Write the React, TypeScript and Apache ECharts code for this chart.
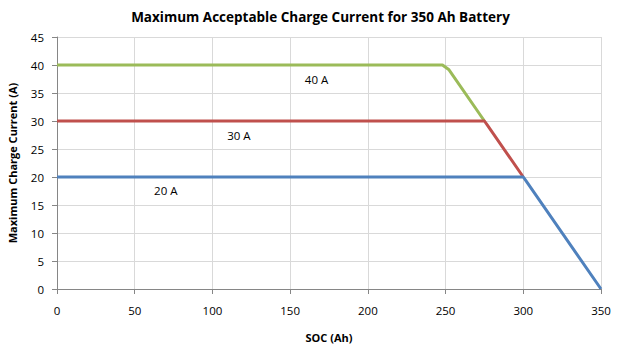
import React, { useEffect, useRef } from "react";
import * as echarts from "echarts";

const title = "Maximum Acceptable Charge Current for 350 Ah Battery";
const xName = "SOC (Ah)";
const yName = "Maximum Charge Current (A)";

const green40: [number, number][] = [[0, 40], [248, 40], [252, 39.2], [275, 30]];
const red30: [number, number][] = [[0, 30], [275, 30], [277, 29.2], [300, 20]];
const blue20: [number, number][] = [[0, 20], [300, 20], [302, 19.2], [350, 0]];

const labelTexts = ["40 A", "30 A", "20 A"];
const labelCoords: [number, number][] = [[167, 37.4], [117, 27.4], [70, 17.6]];

const seriesColors = ["#9bbb59", "#c0504d", "#4f81bd"];
const FONT = "'Open Sans', 'Noto Sans', sans-serif";

export default function App() {
  const ref = useRef<HTMLDivElement>(null);
  useEffect(() => {
    if (!ref.current) return;
    const chart = echarts.init(ref.current, undefined, { renderer: "svg" });
    const datas = [green40, red30, blue20];
    chart.setOption({
      animation: false,
      backgroundColor: "#ffffff",
      title: {
        text: title,
        left: "center",
        top: 5,
        textStyle: { fontFamily: FONT, fontSize: 13.5, fontWeight: "bold", color: "#000" },
      },
      grid: { left: 57, right: 40, top: 37, bottom: 63, outerBoundsMode: "none", containLabel: false },
      xAxis: {
        type: "value",
        min: 0,
        max: 350,
        interval: 50,
        name: xName,
        nameLocation: "middle",
        nameGap: 43,
        nameTextStyle: { fontFamily: FONT, fontSize: 11, fontWeight: "bold", color: "#000" },
        axisLine: { show: true, lineStyle: { color: "#868686", width: 1 } },
        axisTick: { show: true, length: 5, lineStyle: { color: "#868686" } },
        axisLabel: { fontFamily: FONT, fontSize: 11.5, color: "#000", margin: 15 },
        splitLine: { show: true, lineStyle: { color: "#d9d9d9", width: 1 } },
      },
      yAxis: {
        type: "value",
        min: 0,
        max: 45,
        interval: 5,
        name: yName,
        nameLocation: "middle",
        nameGap: 39,
        nameTextStyle: { fontFamily: FONT, fontSize: 11, fontWeight: "bold", color: "#000" },
        axisLine: { show: true, lineStyle: { color: "#868686", width: 1 } },
        axisTick: { show: true, length: 5, lineStyle: { color: "#868686" } },
        axisLabel: { fontFamily: FONT, fontSize: 11.5, color: "#000", margin: 13 },
        splitLine: { show: true, lineStyle: { color: "#d9d9d9", width: 1 } },
      },
      series: datas.map((d, i) => ({
        type: "line",
        data: d,
        showSymbol: false,
        symbol: "none",
        z: 2 + i,
        lineStyle: { color: seriesColors[i], width: 3 },
        markPoint: {
          symbol: "circle",
          symbolSize: 0,
          itemStyle: { color: "transparent" },
          label: {
            show: true,
            formatter: labelTexts[i],
            fontFamily: FONT,
            fontSize: 11.5,
            color: "#000",
            position: "inside",
          },
          data: [{ coord: labelCoords[i] }],
        },
      })),
    });
    return () => chart.dispose();
  }, []);
  return (
    <div
      ref={ref}
      style={{ position: "fixed", left: 0, top: 0, width: 641, height: 352, background: "#fff" }}
    />
  );
}
